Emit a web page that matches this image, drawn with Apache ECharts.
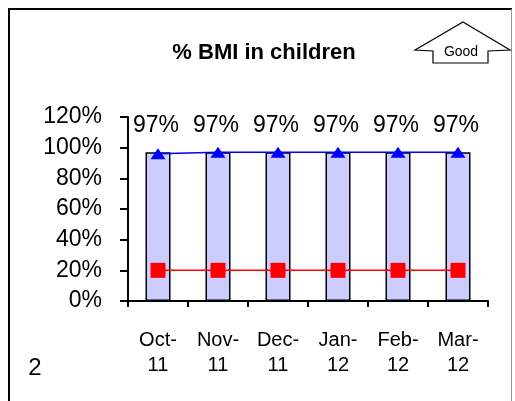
<!DOCTYPE html>
<html>
<head>
<meta charset="utf-8">
<script src="https://cdn.jsdelivr.net/npm/echarts@6/dist/echarts.min.js"></script>
<style>
  html, body { margin: 0; padding: 0; background: #fff; }
  #chart { width: 515px; height: 401px; }
</style>
</head>
<body>
<div id="chart"></div>
<script>
// data
var months = ['Oct-\n11', 'Nov-\n11', 'Dec-\n11', 'Jan-\n12', 'Feb-\n12', 'Mar-\n12'];
var barValues = [0.97, 0.97, 0.97, 0.97, 0.97, 0.97];
var blueLine = [0.96, 0.97, 0.97, 0.97, 0.97, 0.97];
var redLine = [0.20, 0.20, 0.20, 0.20, 0.20, 0.20];

var chart = echarts.init(document.getElementById('chart'));

function pct(v) {
  return Math.round(v * 100) + '%';
}

var FONT = '"Liberation Sans", Arial, sans-serif';

chart.setOption({
  animation: false,
  backgroundColor: '#fff',
  textStyle: { fontFamily: FONT },
  grid: { left: 128, right: 27, top: 117, bottom: 100 },
  graphic: [
    // frame
    { type: 'line', shape: { x1: 8, y1: 9, x2: 512, y2: 9 }, style: { stroke: '#000', lineWidth: 2 } },
    { type: 'line', shape: { x1: 9, y1: 8, x2: 9, y2: 401 }, style: { stroke: '#000', lineWidth: 2 } },
    { type: 'line', shape: { x1: 511.5, y1: 9, x2: 511.5, y2: 401 }, style: { stroke: '#999', lineWidth: 1 } },
    // title
    { type: 'text', x: 264, y: 53, style: { text: '% BMI in children', fill: '#000',
      font: 'bold 22px ' + FONT, textAlign: 'center', textVerticalAlign: 'middle' } },
    // "Good" arrow
    { type: 'polygon', shape: { points: [[463, 22], [510, 50], [488, 51], [488, 63], [433, 63], [433, 51], [415, 50]] },
      style: { fill: '#fff', stroke: '#000', lineWidth: 1.2 } },
    { type: 'text', x: 461, y: 52, style: { text: 'Good', fill: '#000',
      font: '14px ' + FONT, textAlign: 'center', textVerticalAlign: 'middle' } },
    // page number
    { type: 'text', x: 35, y: 368, style: { text: '2', fill: '#000',
      font: '24px ' + FONT, textAlign: 'center', textVerticalAlign: 'middle' } }
  ],
  xAxis: {
    type: 'category',
    data: months,
    boundaryGap: true,
    axisLine: { lineStyle: { color: '#000', width: 2 } },
    axisTick: { show: true, length: 6, lineStyle: { color: '#000', width: 2 } },
    axisLabel: { color: '#000', fontSize: 20, lineHeight: 25, margin: 27, interval: 0 }
  },
  yAxis: {
    type: 'value',
    min: 0,
    max: 1.2,
    interval: 0.2,
    splitLine: { show: false },
    axisLine: { show: true, lineStyle: { color: '#000', width: 2 } },
    axisTick: { show: true, length: 8, lineStyle: { color: '#000', width: 2 } },
    axisLabel: { color: '#000', fontSize: 23, margin: 26, formatter: pct }
  },
  series: [
    {
      type: 'bar',
      data: barValues,
      barWidth: 25,
      itemStyle: { color: '#CCCCFF', borderColor: '#000', borderWidth: 1.5 },
      label: { show: true, position: 'top', distance: 15, offset: [-2, 0], color: '#000', fontSize: 23,
        formatter: function (p) { return pct(p.value); } },
      z: 1
    },
    {
      type: 'line',
      data: blueLine,
      symbol: 'triangle',
      symbolSize: [15, 11],
      lineStyle: { color: '#0000FF', width: 1.5 },
      itemStyle: { color: '#0000FF' },
      z: 3
    },
    {
      type: 'line',
      data: redLine,
      symbol: 'rect',
      symbolSize: 15,
      lineStyle: { color: '#FF0000', width: 1.5 },
      itemStyle: { color: '#FF0000' },
      z: 3
    }
  ]
});
</script>
</body>
</html>
